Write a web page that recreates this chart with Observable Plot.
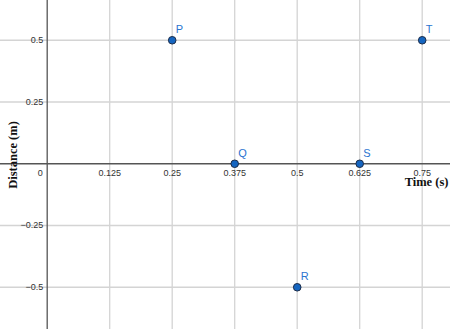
<!DOCTYPE html>
<html>
<head>
<meta charset="utf-8">
<script src="https://cdn.jsdelivr.net/npm/d3@7"></script>
<script src="https://cdn.jsdelivr.net/npm/@observablehq/plot@0.6"></script>
<style>
  html, body { margin: 0; padding: 0; background: #fff; }
  #chart svg { display: block; }
</style>
</head>
<body>
<div id="chart"></div>
<script>
// Data
const pointNames = ["P", "Q", "R", "S", "T"];
const timeValues = [0.25, 0.375, 0.5, 0.625, 0.75];
const distanceValues = [0.5, 0, -0.5, 0, 0.5];

// Tick labels
const xTickValues = [0.125, 0.25, 0.375, 0.5, 0.625, 0.75];
const xTickLabels = ["0.125", "0.25", "0.375", "0.5", "0.625", "0.75"];
const yTickValues = [0.5, 0.25, -0.25, -0.5];
const yTickLabels = ["0.5", "0.25", "\u22120.25", "\u22120.5"];
const xAxisTitle = "Time (s)";
const yAxisTitle = "Distance (m)";

const points = pointNames.map((n, i) => ({name: n, t: timeValues[i], d: distanceValues[i]}));
const xTicks = xTickValues.map((v, i) => ({v, label: xTickLabels[i]}));
const yTicks = yTickValues.map((v, i) => ({v, label: yTickLabels[i]}));

const tickFont = "Liberation Sans, Arial, sans-serif";
const titleFont = "Liberation Serif, Times New Roman, serif";

const chart = Plot.plot({
  width: 450,
  height: 329,
  margin: 0,
  x: {domain: [-0.0934, 0.8066], axis: null},
  y: {domain: [-0.671, 0.661], axis: null},
  style: {background: "#fff"},
  marks: [
    Plot.ruleX(xTickValues, {stroke: "#d4d4d4", strokeWidth: 1.3, strokeOpacity: 1}),
    Plot.ruleY(yTickValues, {stroke: "#d4d4d4", strokeWidth: 1.3, strokeOpacity: 1}),
    Plot.ruleX([0], {stroke: "#555", strokeWidth: 1.3}),
    Plot.ruleY([0], {stroke: "#555", strokeWidth: 1.3}),
    Plot.text(xTicks, {x: "v", y: 0, text: "label", dy: 9, fontSize: 9, fill: "#333", fontFamily: tickFont}),
    Plot.text(["0"], {x: 0, y: 0, text: d => d, dx: -7, dy: 9, fontSize: 9, fill: "#333", fontFamily: tickFont}),
    Plot.text(yTicks, {x: 0, y: "v", text: "label", dx: -4, textAnchor: "end", fontSize: 9, fill: "#333", fontFamily: tickFont}),
    Plot.text([xAxisTitle], {frameAnchor: "right", text: d => d, dx: -2, dy: 17, textAnchor: "end", fontSize: 12.5, fontWeight: "bold", fill: "#111", fontFamily: titleFont}),
    Plot.text([yAxisTitle], {frameAnchor: "left", text: d => d, dx: 12, dy: -10, rotate: -90, textAnchor: "middle", fontSize: 12.5, fontWeight: "bold", fill: "#111", fontFamily: titleFont}),
    Plot.dot(points, {x: "t", y: "d", r: 3.8, fill: "#1565c0", stroke: "#1c2c48", strokeWidth: 1}),
    Plot.text(points, {x: "t", y: "d", text: "name", dx: 3.5, dy: -10.5, textAnchor: "start", fontSize: 11, fill: "#2a74d0", fontFamily: tickFont})
  ]
});
document.getElementById("chart").appendChild(chart);
</script>
</body>
</html>
